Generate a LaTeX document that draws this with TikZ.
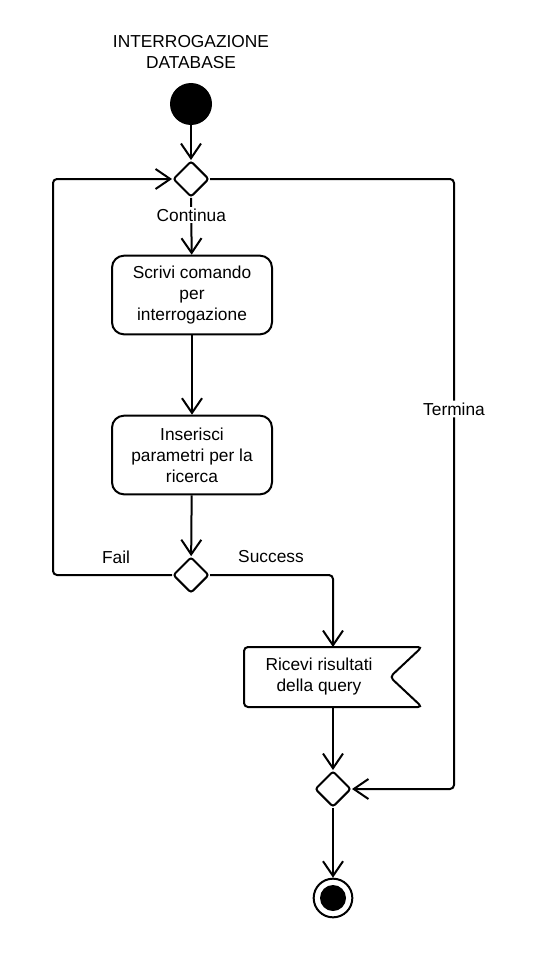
\documentclass[tikz,border=0pt]{standalone}
\usepackage{fontspec}
\setmainfont{Liberation Sans}
\usepackage{tikz}
\usetikzlibrary{arrows}
\usetikzlibrary{arrows.meta}
\usetikzlibrary{shapes}

\tikzset{
  flowline/.style={line width=1.5pt, -{Straight Barb[length=11pt,width=15pt,line width=1.5pt]}},
  actbox/.style={draw, line width=1.5pt, rounded corners=9pt, minimum width=120pt, minimum height=59pt, align=center, inner sep=0.75pt},
  branch/.style={draw, diamond, line width=1.5pt, rounded corners=2pt, minimum width=27pt, minimum height=27pt, inner sep=0pt},
  lbl/.style={inner sep=1.5pt, font=\fontsize{13}{15.75}\selectfont}
}

\begin{document}
\begin{tikzpicture}[x=0.75pt,y=0.75pt,yscale=-1,xscale=1,font=\fontsize{13}{15.75}\selectfont]
\path[use as bounding box, fill=white] (0,0) rectangle (534,956);

% Title
\node (title) [align=center, lbl] at (191,52) {INTERROGAZIONE\\DATABASE};
% Start
\node (start) [circle, fill=black, minimum size=31.5pt, inner sep=0pt] at (191,104) {};
% Decisions
\node (dec1) [branch] at (191,179) {};
\node (dec2) [branch] at (191,575) {};
\node (dec3) [branch] at (333,789) {};
% Actions
\node (scrivi) [actbox] at (192,295) {Scrivi comando\\per\\interrogazione};
\node (inserisci) [actbox] at (192,455) {Inserisci\\parametri per la\\ricerca};
% Receive signal
\draw [line width=1.5pt, rounded corners=3pt] (244,647) -- (422,647) -- (390,677) -- (422,707) -- (244,707) -- cycle ;
\node (ricevi) [align=center, lbl] at (319,677) {Ricevi risultati\\della query};
\coordinate (recvtop) at (333,647);
\coordinate (recvbot) at (333,707);
% End
\node (stop) [circle, draw, line width=1.5pt, minimum size=29pt, inner sep=0pt] at (333,898) {};
\node (stopdot) [circle, fill=black, minimum size=19.5pt, inner sep=0pt] at (stop) {};

% Connectors
\draw [flowline] (start) -- (dec1);
\draw [flowline] (dec1) -- node [pos=0.3, fill=white, lbl] (continua) {Continua} (scrivi);
\draw [flowline] (scrivi) -- (inserisci);
\draw [flowline] (inserisci) -- (dec2);
\draw [flowline, rounded corners=3pt] (dec2.west) -- ++(-119,0) |- (dec1.west);
\draw [flowline, rounded corners=3pt] (dec2.east) -| (recvtop);
\draw [flowline] (recvbot) -- (dec3);
\draw [flowline, rounded corners=3pt] (dec1.east) -- (454,179) -- node [pos=0.377, fill=white, lbl] (termina) {Termina} (454,789) -- (dec3.east);
\draw [flowline] (dec3) -- (stop);

% Labels
\node (fail) [lbl] at (116,557) {Fail};
\node (success) [lbl] at (271,557) {Success};

\end{tikzpicture}
\end{document}
